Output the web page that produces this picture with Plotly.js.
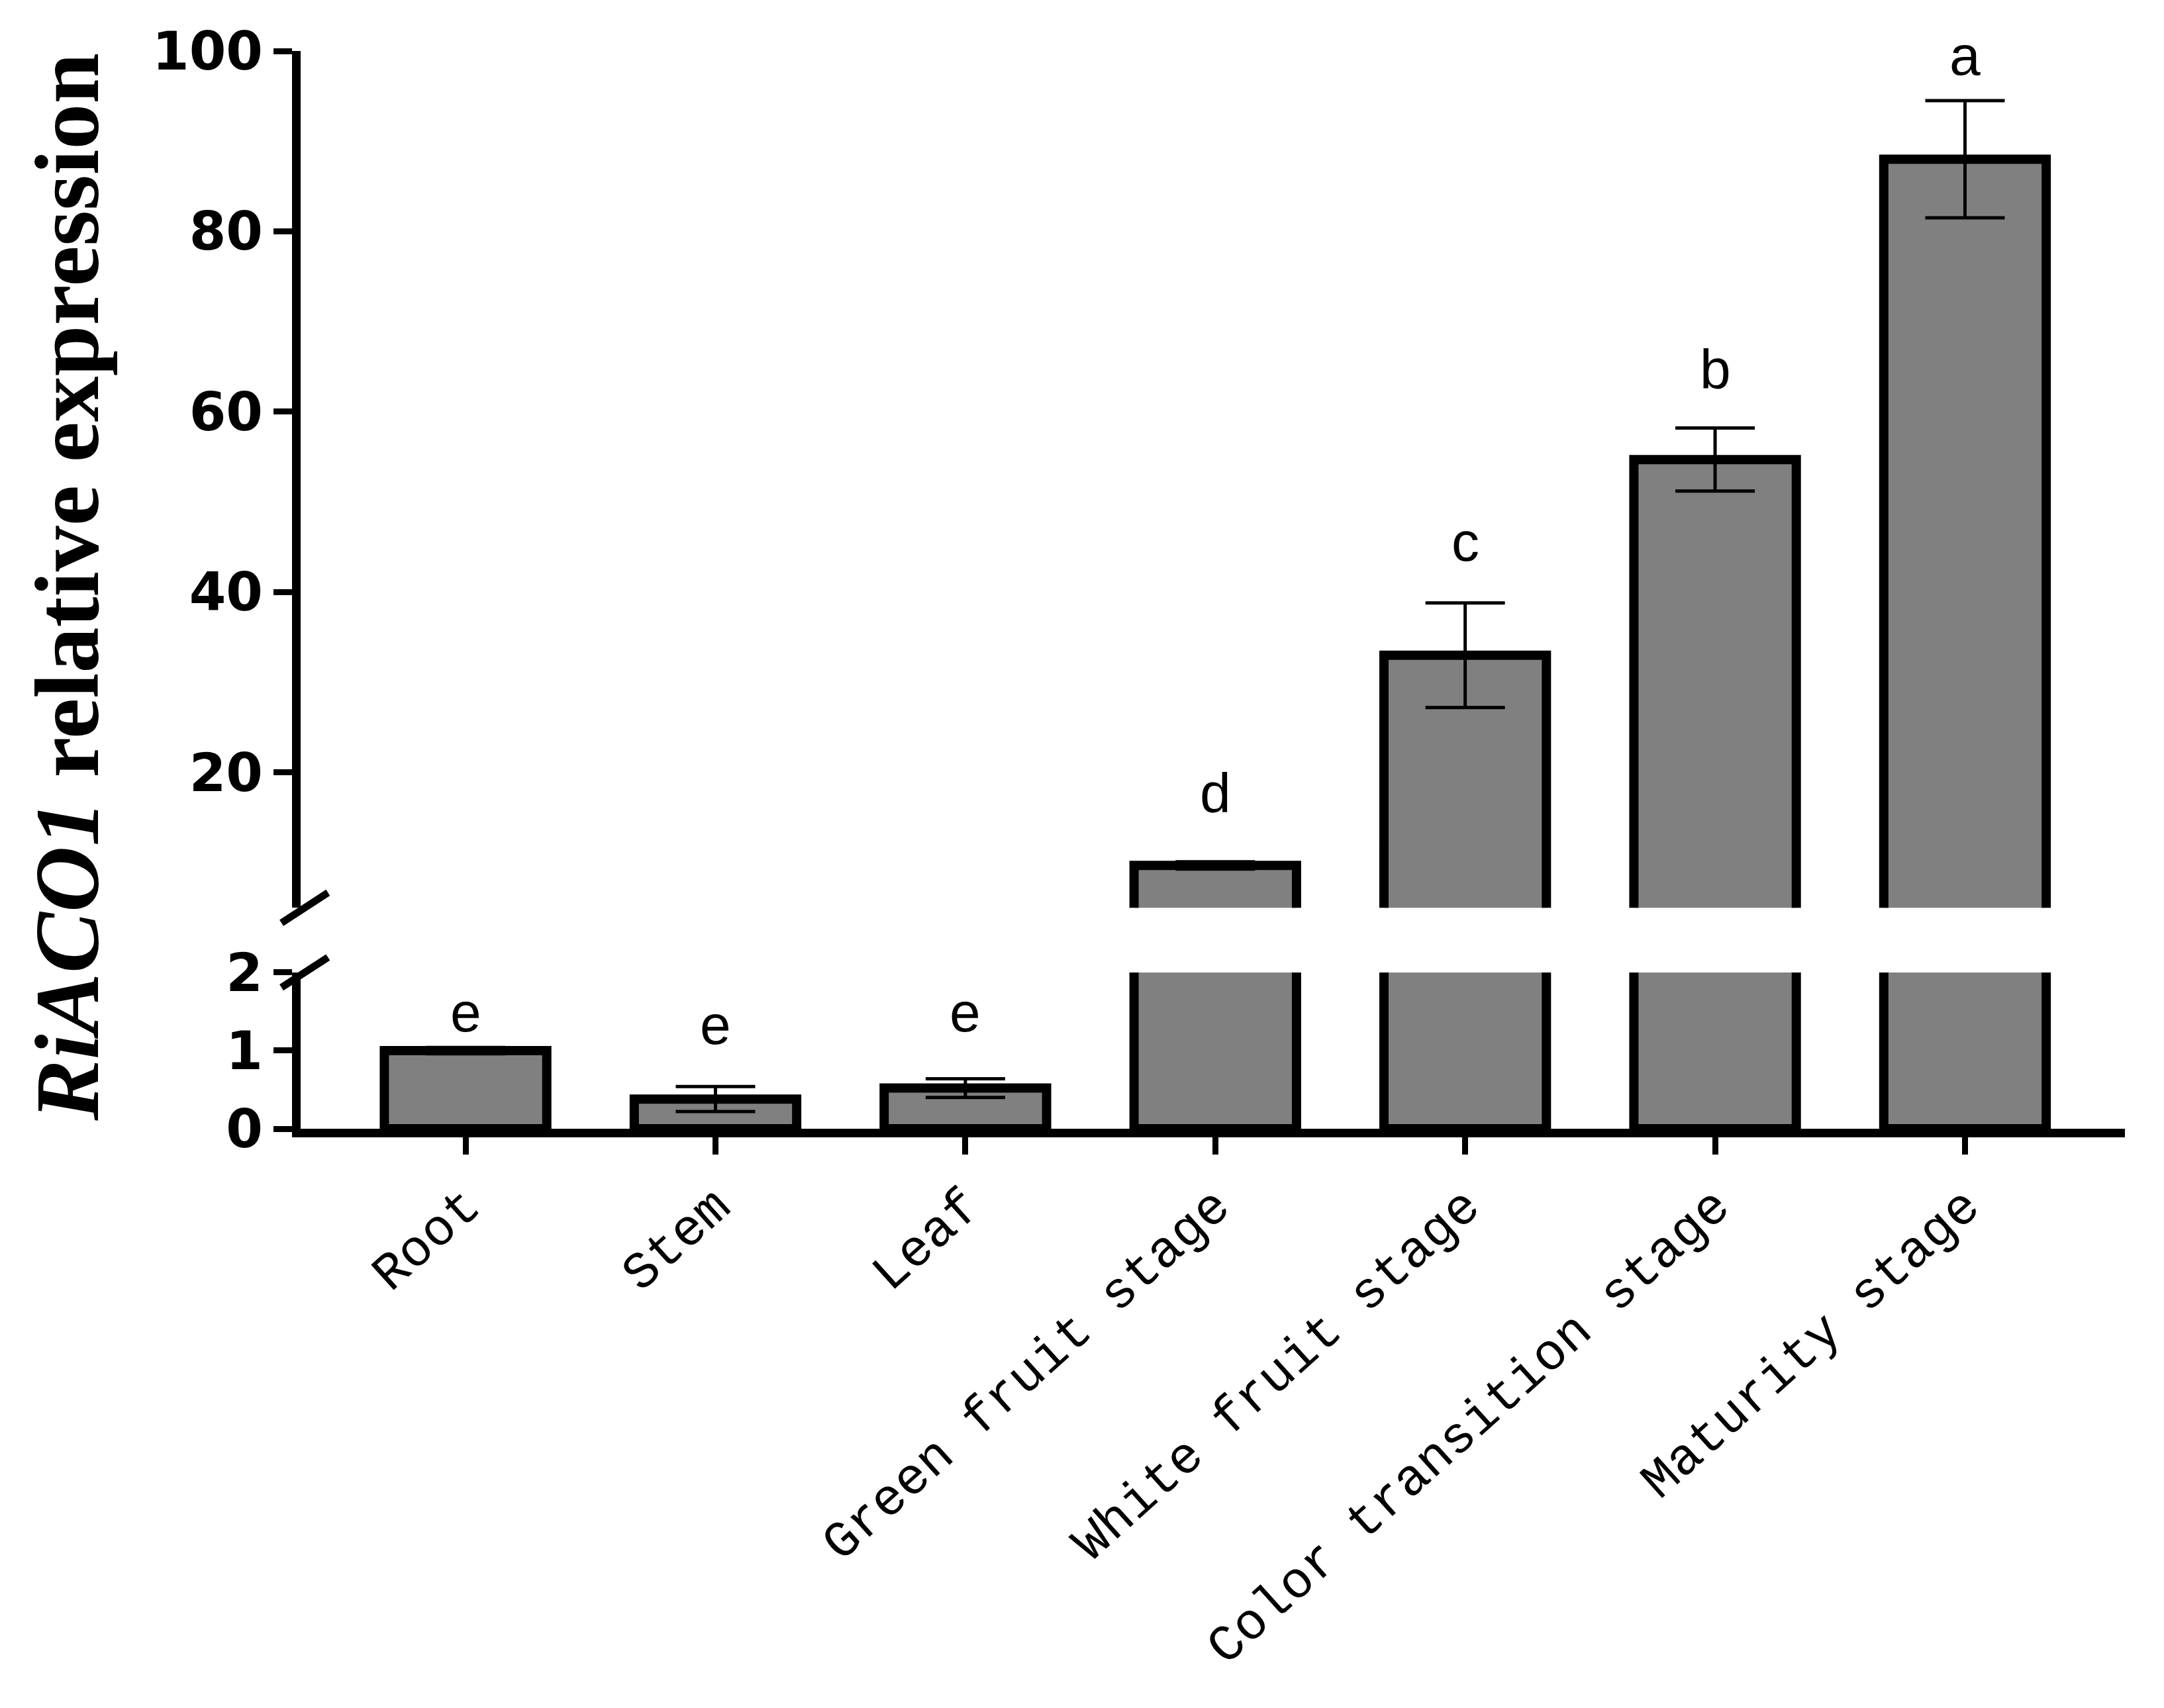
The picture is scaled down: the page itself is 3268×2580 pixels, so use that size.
<!DOCTYPE html>
<html>
<head>
<meta charset="utf-8">
<script src="https://cdn.plot.ly/plotly-3.0.1.min.js"></script>
<style>
html,body{margin:0;padding:0;background:#fff;}
#chart{width:3268px;height:2580px;}
</style>
</head>
<body>
<div id="chart"></div>
<script>
// ---- data ----
var categories = ["Root", "Stem", "Leaf", "Green fruit stage", "White fruit stage", "Color transition stage", "Maturity stage"];
var values     = [1.0, 0.38, 0.52, 9.7, 33.0, 54.7, 88.0];
var errors     = [0.04, 0.16, 0.12, 0.4, 5.8, 3.5, 6.5];
var letters    = ["e", "e", "e", "d", "c", "b", "a"];
var letterY    = [1.49, 1.33, 1.49, 17.7, 45.6, 64.7, 99.5];
var lowerTicks = [0, 1, 2];
var upperTicks = [20, 40, 60, 80, 100];

var barStyle = {color: "#808080", line: {color: "#000", width: 14}};
var errStyle = {type: "data", array: errors, visible: true, color: "#000", thickness: 5, width: 60};

var lower = {
  type: "bar", x: categories, y: values, xaxis: "x", yaxis: "y",
  marker: barStyle, error_y: errStyle, width: 0.65, hoverinfo: "none", showlegend: false
};
var upper = {
  type: "bar", x: categories, y: values, xaxis: "x", yaxis: "y2",
  marker: barStyle, error_y: errStyle, width: 0.65, hoverinfo: "none", showlegend: false
};

var annotations = [];
for (var i = 0; i < categories.length; i++) {
  annotations.push({
    x: categories[i], y: letterY[i], xref: "x", yref: (i < 3 ? "y" : "y2"),
    text: letters[i], showarrow: false, xanchor: "center", yanchor: "middle",
    font: {family: "Liberation Sans, Arial, sans-serif", size: 84, color: "#000"}
  });
}
annotations.push({
  xref: "paper", yref: "paper", x: -0.128, y: 0.503,
  text: "<b><i>RiACO1</i> relative expression</b>", textangle: -90,
  showarrow: false, xanchor: "center", yanchor: "middle",
  font: {family: "Liberation Serif, Times New Roman, serif", size: 138, color: "#000"}
});

var shapes = [
  {type: "line", xref: "paper", yref: "paper", x0: -0.0105, x1: 0.0150, y0: 0.191, y1: 0.219, line: {color: "#000", width: 11}},
  {type: "line", xref: "paper", yref: "paper", x0: -0.0105, x1: 0.0150, y0: 0.131, y1: 0.159, line: {color: "#000", width: 11}}
];

var tickFontY = {family: "DejaVu Sans, Liberation Sans, sans-serif", size: 80, color: "#000", weight: "bold"};

var layout = {
  width: 3268, height: 2580,
  paper_bgcolor: "#fff", plot_bgcolor: "#fff",
  margin: {l: 454, r: 59, t: 77, b: 875},
  showlegend: false,
  xaxis: {
    type: "category", range: [-0.66, 6.64], anchor: "y",
    showline: true, linewidth: 13, linecolor: "#000",
    ticks: "outside", ticklen: 26, tickwidth: 9, tickcolor: "#000",
    tickangle: -42, showgrid: false, zeroline: false,
    tickfont: {family: "Liberation Mono, Courier New, monospace", size: 78, color: "#000"},
    ticklabelstandoff: 0
  },
  yaxis: {
    domain: [0, 0.145], range: [0, 2], anchor: "x",
    tickvals: lowerTicks, ticktext: lowerTicks.map(String),
    showline: true, linewidth: 13, linecolor: "#000",
    ticks: "outside", ticklen: 28, tickwidth: 9, tickcolor: "#000",
    showgrid: false, zeroline: false, tickfont: tickFontY
  },
  yaxis2: {
    domain: [0.205, 1], range: [5, 100], anchor: "x",
    tickvals: upperTicks, ticktext: upperTicks.map(String),
    showline: true, linewidth: 13, linecolor: "#000",
    ticks: "outside", ticklen: 28, tickwidth: 9, tickcolor: "#000",
    showgrid: false, zeroline: false, tickfont: tickFontY
  },
  annotations: annotations,
  shapes: shapes
};

Plotly.newPlot("chart", [lower, upper], layout, {staticPlot: true, displayModeBar: false});
</script>
</body>
</html>
